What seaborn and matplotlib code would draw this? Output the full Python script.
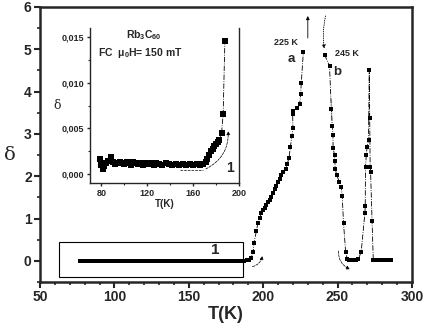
import matplotlib
matplotlib.use("Agg")
import matplotlib.pyplot as plt
import seaborn as sns
from matplotlib.patches import Rectangle
from matplotlib.ticker import MultipleLocator, FuncFormatter

# main curve: delta vs T (K)
T_low = [77, 79, 81, 83, 85, 87, 89, 91, 93, 95, 97, 99, 101, 103, 105, 107, 109, 111,
         113, 115, 117, 119, 121, 123, 125, 127, 129, 131, 133, 135, 137, 139, 141, 143,
         145, 147, 149, 151, 153, 155, 157, 159, 161, 163, 165, 167, 169, 171, 173, 175,
         177, 179, 181, 183, 185, 187]
d_low = [0.0] * len(T_low)

T_rise = [189, 190.5, 192, 193.2, 193.8, 195.4, 196.5, 197.7, 198.8, 200, 201, 202,
          203.2, 204.3, 205.5, 206.6, 207.7, 208.8, 210, 211, 212.2, 213.6, 215.1, 216.2,
          217.3, 218.3, 219.3, 220, 219.8, 220.3, 222.5, 224.5, 225.2, 225.6, 227]
d_rise = [0.02, 0.03, 0.08, 0.22, 0.42, 0.7, 0.9, 1.02, 1.14, 1.2, 1.26, 1.32,
          1.38, 1.44, 1.5, 1.6, 1.7, 1.78, 1.86, 1.94, 2.02, 2.1, 2.18, 2.3,
          2.42, 2.7, 2.94, 3.14, 3.46, 3.54, 3.62, 3.7, 3.94, 4.2, 4.93]

T_fall = [241.3, 244.6, 245.8, 245.8, 246.5, 246.9, 247.0, 248, 248.2, 248.4, 249.5,
          251.3, 252.5, 253.1, 254, 255.4, 256.5, 258, 259.5, 261, 262.5, 264, 265.9,
          268.4, 268.6, 268.8, 269.3, 269.9, 270.8, 271.3, 271.6, 271.9, 272.2, 273.2,
          274, 275.5, 277, 278.5, 280, 281.5, 283, 284.5, 286]
d_fall = [4.87, 4.6, 3.82, 3.34, 3.18, 2.98, 2.66, 2.5, 2.35, 2.18, 2.02,
          1.86, 1.74, 1.54, 0.9, 0.22, 0.04, 0.03, 0.03, 0.03, 0.03, 0.04, 0.22,
          1.14, 1.3, 2.22, 2.5, 2.7, 2.86, 4.5, 3.38, 2.22, 2.1, 0.94,
          0.03, 0.02, 0.02, 0.02, 0.02, 0.02, 0.02, 0.02, 0.02]

# inset: low temperature region (box "1")
T_in = [78.5, 79.5, 81, 82.5, 84, 86, 88.5, 90, 92, 94, 96, 98, 100, 102, 104, 106, 108,
        110, 112, 114, 116, 118, 120, 122, 124, 126, 128, 130, 133, 136, 139, 142, 145,
        148, 151, 154, 157, 160, 163, 166, 168.5, 171, 172.5, 174, 175.5, 177, 178.5,
        180, 181.5, 183, 184.8, 186.2, 187.7]
d_in = [0.0017, 0.0010, 0.0006, 0.0009, 0.0012, 0.0014, 0.0019, 0.0013, 0.0011, 0.0012,
        0.0013, 0.0012, 0.0011, 0.0013, 0.0012, 0.0010, 0.0013, 0.0012, 0.0011, 0.0012,
        0.0010, 0.0012, 0.0011, 0.0012, 0.0011, 0.0010, 0.0012, 0.0011, 0.0010, 0.0012,
        0.0011, 0.0010, 0.0011, 0.0010, 0.0011, 0.0010, 0.0011, 0.0010, 0.0011, 0.0010,
        0.0011, 0.0013, 0.0017, 0.0021, 0.0025, 0.0028, 0.0031, 0.0033, 0.0035, 0.0037,
        0.0045, 0.0066, 0.0146]

sns.set_style("ticks")
plt.rcParams["font.family"] = ["Liberation Sans", "DejaVu Sans"]
plt.rcParams["font.weight"] = "bold"
plt.rcParams["mathtext.fontset"] = "custom"
plt.rcParams["mathtext.rm"] = "Liberation Sans:bold"
plt.rcParams["mathtext.it"] = "Liberation Sans:bold"
plt.rcParams["mathtext.bf"] = "Liberation Sans:bold"

fig = plt.figure(figsize=(4.26, 3.28), dpi=100)
ax = fig.add_axes([0.094, 0.140, 0.873, 0.839])

line_kw = dict(color="black", linestyle="-.", linewidth=0.6, marker="s",
               markersize=3.5, markeredgewidth=0, sort=False, ax=ax)
sns.lineplot(x=T_low, y=d_low, **line_kw)
sns.lineplot(x=T_rise, y=d_rise, **line_kw)
sns.lineplot(x=T_fall, y=d_fall, **line_kw)

ax.set_xlim(50, 300)
ax.set_ylim(-0.5, 6)
ax.xaxis.set_major_locator(MultipleLocator(50))
ax.xaxis.set_minor_locator(MultipleLocator(10))
ax.yaxis.set_major_locator(MultipleLocator(1))
ax.yaxis.set_minor_locator(MultipleLocator(0.5))
ax.tick_params(which="major", direction="out", length=4, width=1.5, labelsize=10, pad=2)
ax.tick_params(which="minor", direction="out", length=2.5, width=1.2)
for s in ax.spines.values():
    s.set_linewidth(1.8)
for lab in ax.get_xticklabels() + ax.get_yticklabels():
    lab.set_fontweight("bold")
ax.set_xlabel("T(K)", fontsize=13, fontweight="bold", labelpad=1)
ax.set_ylabel("δ", fontsize=14, fontweight="normal", family="DejaVu Serif",
              rotation=0, ha="center", va="center")
ax.yaxis.set_label_coords(-0.08, 0.46)

# box around low-T region
ax.add_patch(Rectangle((63, -0.38), 123.4, 0.83, fill=False, lw=0.8, ec="black"))
ax.text(167.5, 0.26, "1", fontsize=11, fontweight="bold", ha="center", va="center")

ax.text(215.6, 5.16, "225 K", fontsize=6.5, fontweight="bold", ha="center", va="center")
ax.text(218.9, 4.77, "a", fontsize=9.5, fontweight="bold", ha="center", va="center")
ax.text(256, 4.91, "245 K", fontsize=6.5, fontweight="bold", ha="center", va="center")
ax.text(249.5, 4.47, "b", fontsize=9.5, fontweight="bold", ha="center", va="center")

ax.annotate("", xy=(230, 5.85), xytext=(230, 5.2),
            arrowprops=dict(arrowstyle="-|>", lw=0.6, color="black", mutation_scale=5))
ax.annotate("", xy=(241.3, 4.95), xytext=(242.3, 5.85),
            arrowprops=dict(arrowstyle="-|>", lw=0.6, ls=":", color="black",
                            mutation_scale=5, connectionstyle="arc3,rad=0.1"))
ax.annotate("", xy=(199.7, 0.18), xytext=(190.9, -0.15),
            arrowprops=dict(arrowstyle="-|>", lw=0.5, ls="--", color="black",
                            mutation_scale=5, connectionstyle="arc3,rad=0.4"))
ax.annotate("", xy=(260, -0.22), xytext=(250.7, 0.3),
            arrowprops=dict(arrowstyle="-|>", lw=0.5, ls="--", color="black",
                            mutation_scale=5, connectionstyle="arc3,rad=0.4"))

# inset
ins = fig.add_axes([0.211, 0.441, 0.350, 0.474])
sns.lineplot(x=T_in, y=d_in, color="black", linestyle="-.", linewidth=0.6, marker="s",
             markersize=3.8, markeredgewidth=0, sort=False, ax=ins)
ins.set_xlim(70, 200)
ins.set_ylim(-0.001, 0.016)
ins.xaxis.set_major_locator(MultipleLocator(40))
ins.xaxis.set_minor_locator(MultipleLocator(20))
ins.yaxis.set_major_locator(MultipleLocator(0.005))
ins.yaxis.set_minor_locator(MultipleLocator(0.0025))
ins.yaxis.set_major_formatter(FuncFormatter(lambda v, p: f"{v:.3f}".replace(".", ",")))
ins.tick_params(which="major", direction="out", length=2.5, width=1, labelsize=6.5, pad=1.5)
ins.tick_params(which="minor", direction="out", length=1.5, width=0.8)
ins.spines["top"].set_visible(False)
for s in ["left", "bottom", "right"]:
    ins.spines[s].set_linewidth(1)
for lab in ins.get_xticklabels() + ins.get_yticklabels():
    lab.set_fontweight("bold")
ins.set_xlabel("T(K)", fontsize=7, fontweight="bold", labelpad=1)
ins.set_ylabel("δ", fontsize=9, family="DejaVu Serif", rotation=0, ha="center", va="center")
ins.yaxis.set_label_coords(-0.22, 0.5)
ins.text(0.36, 0.955, "Rb$_3$C$_{60}$", transform=ins.transAxes, fontsize=7.5,
         fontweight="bold", ha="center", va="center")
ins.text(0.34, 0.84, "FC  μ$_0$H= 150 mT", transform=ins.transAxes, fontsize=7.5,
         fontweight="bold", ha="center", va="center")
ins.text(192.1, 0.0007, "1", fontsize=10, fontweight="bold", ha="center", va="center")
ins.plot([148.5, 168.9], [0.00044, 0.00044], color="black", lw=0.5, ls="--")
ins.annotate("", xy=(190.5, 0.0050), xytext=(168.9, 0.00044),
             arrowprops=dict(arrowstyle="-|>", lw=0.5, ls="--", color="black",
                             mutation_scale=5, connectionstyle="arc3,rad=0.35"))

fig.savefig("out.png", dpi=100)
plt.close(fig)
